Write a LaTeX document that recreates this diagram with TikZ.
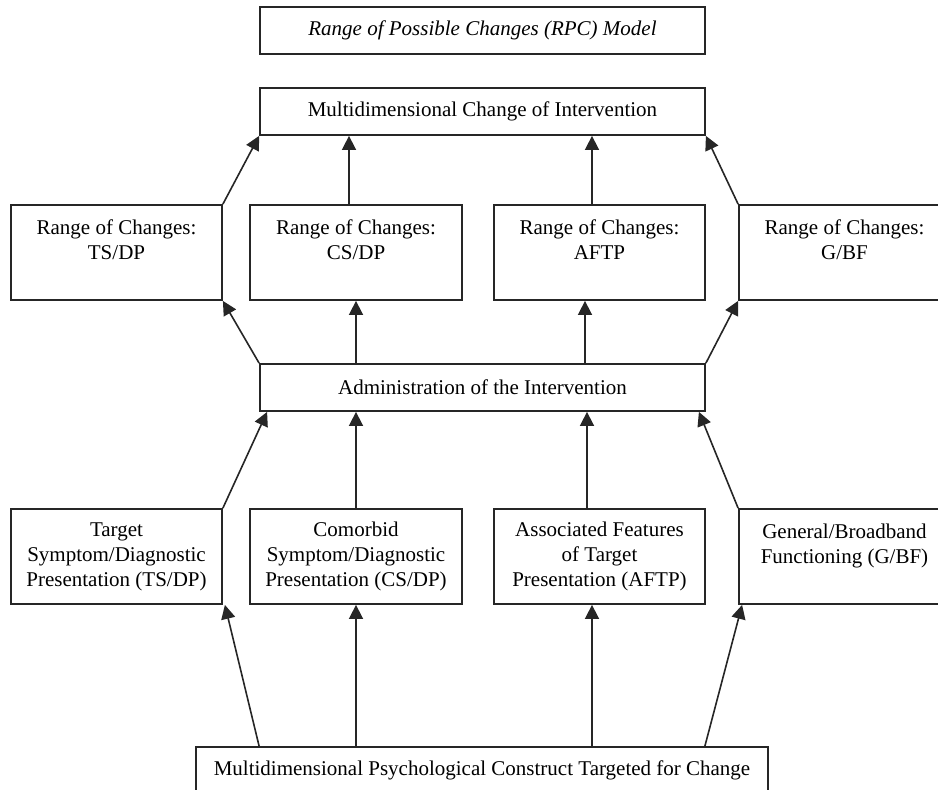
\documentclass[tikz,border=0pt]{standalone}
\usepackage{fontspec}
\setmainfont{Liberation Serif}
\usetikzlibrary{arrows.meta,calc}
\begin{document}
\begin{tikzpicture}[x=0.5pt,y=-0.5pt,
  box/.style={draw=black!85,line width=0.9pt,inner sep=0pt,align=center,
    font=\fontsize{10.5pt}{12.5pt}\selectfont},
  widebox/.style={box,minimum width=222.5pt,minimum height=23.5pt},
  smallbox/.style={box,minimum width=105.5pt,minimum height=47.5pt},
  arr/.style={draw=black!85,line width=0.8pt,-{Triangle[length=7pt,width=7pt]}}]
\useasboundingbox (0,0) rectangle (938,790);
% top
\node[widebox,font=\fontsize{10.5pt}{12.5pt}\selectfont\itshape] (title) at (482.5,30.5) {Range of Possible Changes (RPC) Model};
\node[widebox] (multi) at (482.5,111.5) {Multidimensional Change of Intervention};
% range row
\node[smallbox] (r1) at (116.5,252.5) {Range of Changes:\\TS/DP\\\mbox{}};
\node[smallbox,minimum width=106pt] (r2) at (356,252.5) {Range of Changes:\\CS/DP\\\mbox{}};
\node[smallbox] (r3) at (599.5,252.5) {Range of Changes:\\AFTP\\\mbox{}};
\node[smallbox] (r4) at (844.5,252.5) {Range of Changes:\\G/BF\\\mbox{}};
% administration
\node[widebox] (admin) at (482.5,387.5) {Administration of the Intervention};
% construct row
\node[smallbox] (b1) at (116.5,556.5) {Target\\Symptom/Diagnostic\\Presentation (TS/DP)};
\node[smallbox,minimum width=106pt] (b2) at (356,556.5) {Comorbid\\Symptom/Diagnostic\\Presentation (CS/DP)};
\node[smallbox] (b3) at (599.5,556.5) {Associated Features\\of Target\\Presentation (AFTP)};
\node[smallbox] (b4) at (844.5,556.5) {General/Broadband\\Functioning (G/BF)\\\mbox{}};
% bottom
\node[box,minimum width=286pt,minimum height=23.5pt] (bottom) at (482,770.5) {Multidimensional Psychological Construct Targeted for Change};
% range -> multi
\draw[arr] (r1.north east) -- (multi.south west);
\draw[arr] ([xshift=-3.5pt]r2.north) -- ([xshift=-3.5pt]r2.north |- multi.south);
\draw[arr] ([xshift=-3.75pt]r3.north) -- ([xshift=-3.75pt]r3.north |- multi.south);
\draw[arr] (r4.north west) -- (multi.south east);
% admin -> range
\draw[arr] (admin.north west) -- (r1.south east);
\draw[arr] (r2.south |- admin.north) -- (r2.south);
\draw[arr] ([xshift=-7.25pt]r3.south |- admin.north) -- ([xshift=-7.25pt]r3.south);
\draw[arr] (admin.north east) -- (r4.south west);
% construct row -> admin
\draw[arr] (b1.north east) -- ([xshift=4pt]admin.south west);
\draw[arr] (b2.north) -- (b2.north |- admin.south);
\draw[arr] ([xshift=-6.25pt]b3.north) -- ([xshift=-6.25pt]b3.north |- admin.south);
\draw[arr] (b4.north west) -- ([xshift=-3.5pt]admin.south east);
% bottom -> construct row
\draw[arr] ([xshift=32pt]bottom.north west) -- ([xshift=1pt]b1.south east);
\draw[arr] (b2.south |- bottom.north) -- (b2.south);
\draw[arr] ([xshift=-3.75pt]b3.south |- bottom.north) -- ([xshift=-3.75pt]b3.south);
\draw[arr] ([xshift=-32pt]bottom.north east) -- ([xshift=2pt]b4.south west);
\end{tikzpicture}
\end{document}
